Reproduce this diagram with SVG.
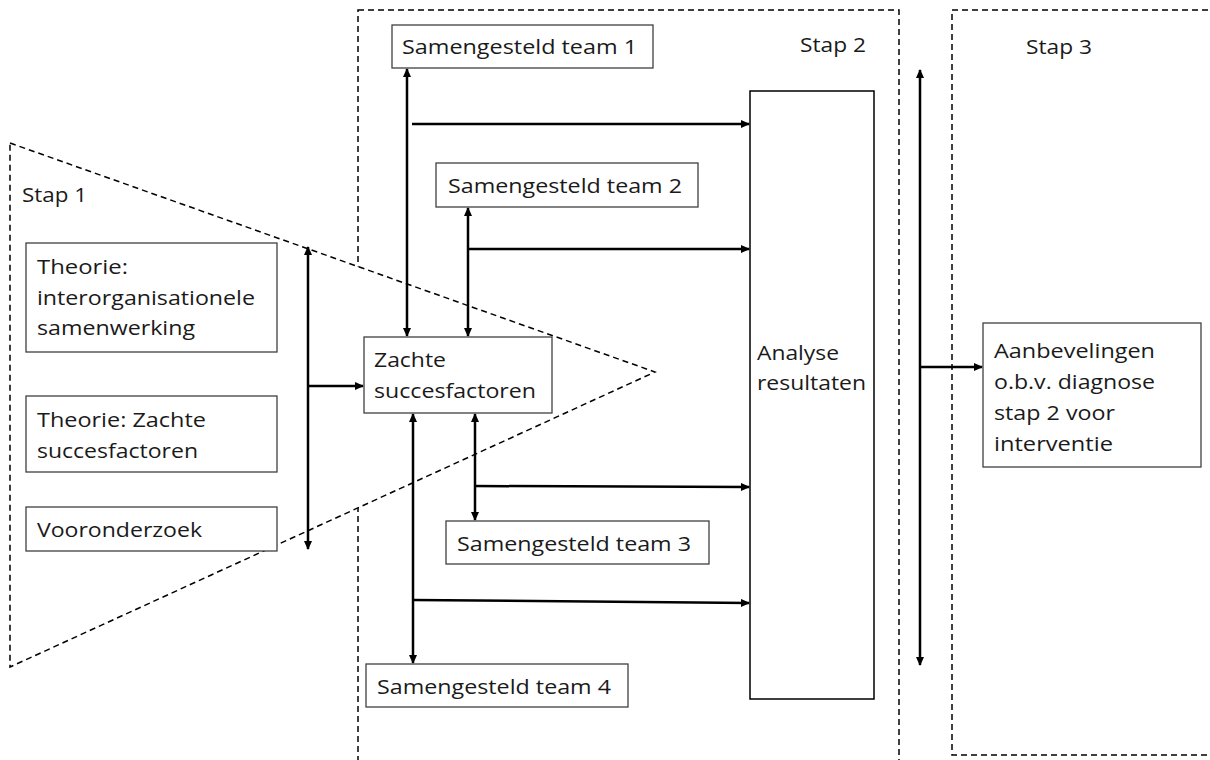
<svg xmlns="http://www.w3.org/2000/svg" width="1210" height="760" viewBox="0 0 1210 760">
<defs>
<style>
.frame{fill:none;stroke:#000;stroke-width:1.5;stroke-dasharray:6,4}
.tri{fill:#fff;stroke:#000;stroke-width:1.5;stroke-dasharray:6,4}
.box{fill:#fff;stroke:#404040;stroke-width:1.3}
.bigbox{fill:#fff;stroke:#000;stroke-width:1.5}
.t{font-family:"Open Sans","Liberation Sans",sans-serif;font-size:20.5px;fill:#1a1a1a}
.c{fill:none;stroke:#000;stroke-width:2.5}
</style>
<marker id="ah" markerWidth="9" markerHeight="8" refX="8" refY="4" orient="auto-start-reverse" markerUnits="userSpaceOnUse">
<path d="M0,0 L9,4 L0,8 Z" fill="#000"/>
</marker>
</defs>
<g id="stap2-frame"><rect class="frame" x="358" y="10" width="541" height="760"/>
<text class="t" x="800" y="52" textLength="66" lengthAdjust="spacingAndGlyphs">Stap 2</text></g>
<g id="stap3-frame"><rect class="frame" x="952" y="10" width="270" height="745"/>
<text class="t" x="1026" y="54" textLength="66" lengthAdjust="spacingAndGlyphs">Stap 3</text></g>
<g id="stap1-triangle"><polygon class="tri" points="10,143 655,372 10,667"/>
<text class="t" x="22" y="202" textLength="65" lengthAdjust="spacingAndGlyphs">Stap 1</text></g>
<g id="connectors">
<line class="c" x1="308" y1="247" x2="308" y2="549" marker-start="url(#ah)" marker-end="url(#ah)"/>
<line class="c" x1="308" y1="386" x2="363" y2="386" marker-end="url(#ah)"/>
<line class="c" x1="407" y1="69" x2="407" y2="336" marker-start="url(#ah)" marker-end="url(#ah)"/>
<line class="c" x1="412" y1="124" x2="749" y2="124" marker-end="url(#ah)"/>
<line class="c" x1="468" y1="208" x2="468" y2="336" marker-start="url(#ah)" marker-end="url(#ah)"/>
<line class="c" x1="468" y1="249" x2="749" y2="249" marker-end="url(#ah)"/>
<line class="c" x1="475" y1="414" x2="475" y2="520" marker-start="url(#ah)" marker-end="url(#ah)"/>
<line class="c" x1="475" y1="486" x2="749" y2="487" marker-end="url(#ah)"/>
<line class="c" x1="413" y1="414" x2="413" y2="663" marker-start="url(#ah)" marker-end="url(#ah)"/>
<line class="c" x1="413" y1="600" x2="749" y2="603" marker-end="url(#ah)"/>
<line class="c" x1="920" y1="70" x2="920" y2="665" marker-start="url(#ah)" marker-end="url(#ah)"/>
<line class="c" x1="920" y1="367" x2="982" y2="367" marker-end="url(#ah)"/>
</g>
<g id="theorie-inter"><rect class="box" x="26" y="243" width="251" height="109"/>
<text class="t" x="37" y="274" textLength="91" lengthAdjust="spacingAndGlyphs">Theorie:</text>
<text class="t" x="37" y="305" textLength="218" lengthAdjust="spacingAndGlyphs">interorganisationele</text>
<text class="t" x="37" y="335" textLength="158" lengthAdjust="spacingAndGlyphs">samenwerking</text></g>
<g id="theorie-zachte"><rect class="box" x="26" y="396" width="251" height="76"/>
<text class="t" x="37" y="427" textLength="169" lengthAdjust="spacingAndGlyphs">Theorie: Zachte</text>
<text class="t" x="37" y="458" textLength="161" lengthAdjust="spacingAndGlyphs">succesfactoren</text></g>
<g id="vooronderzoek"><rect class="box" x="26" y="507" width="251" height="44"/>
<text class="t" x="37" y="537" textLength="165" lengthAdjust="spacingAndGlyphs">Vooronderzoek</text></g>
<g id="zachte"><rect class="box" x="364" y="337" width="188" height="76"/>
<text class="t" x="374" y="367" textLength="72" lengthAdjust="spacingAndGlyphs">Zachte</text>
<text class="t" x="374" y="398" textLength="162" lengthAdjust="spacingAndGlyphs">succesfactoren</text></g>
<g id="team1"><rect class="box" x="392" y="25" width="261" height="43"/>
<text class="t" x="402" y="54" textLength="235" lengthAdjust="spacingAndGlyphs">Samengesteld team 1</text></g>
<g id="team2"><rect class="box" x="436" y="163" width="262" height="44"/>
<text class="t" x="448" y="193" textLength="234" lengthAdjust="spacingAndGlyphs">Samengesteld team 2</text></g>
<g id="team3"><rect class="box" x="446" y="521" width="263" height="43"/>
<text class="t" x="457" y="551" textLength="234" lengthAdjust="spacingAndGlyphs">Samengesteld team 3</text></g>
<g id="team4"><rect class="box" x="366" y="664" width="262" height="43"/>
<text class="t" x="377" y="694" textLength="234" lengthAdjust="spacingAndGlyphs">Samengesteld team 4</text></g>
<g id="analyse"><rect class="bigbox" x="750" y="91" width="124" height="608"/>
<text class="t" x="757" y="360" textLength="82" lengthAdjust="spacingAndGlyphs">Analyse</text>
<text class="t" x="757" y="390" textLength="109" lengthAdjust="spacingAndGlyphs">resultaten</text></g>
<g id="aanbevelingen"><rect class="box" x="983" y="323" width="218" height="144"/>
<text class="t" x="994" y="358" textLength="161" lengthAdjust="spacingAndGlyphs">Aanbevelingen</text>
<text class="t" x="994" y="389" textLength="161" lengthAdjust="spacingAndGlyphs">o.b.v. diagnose</text>
<text class="t" x="994" y="420" textLength="121" lengthAdjust="spacingAndGlyphs">stap 2 voor</text>
<text class="t" x="994" y="451" textLength="119" lengthAdjust="spacingAndGlyphs">interventie</text></g>
</svg>
